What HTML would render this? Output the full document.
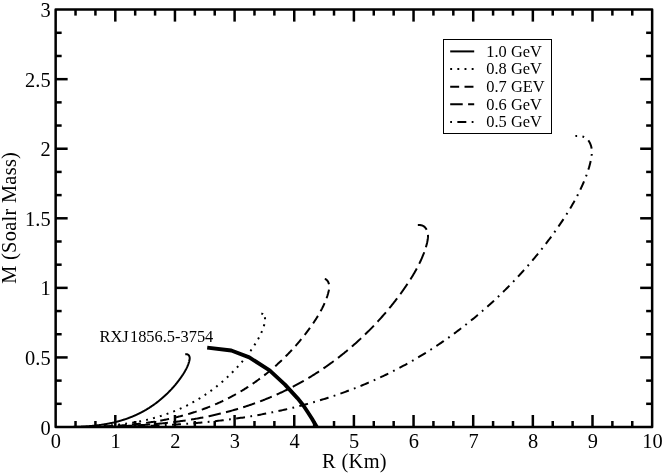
<!DOCTYPE html>
<html><head><meta charset="utf-8"><title>M-R</title>
<style>html,body{margin:0;padding:0;background:#fff;}svg{display:block;will-change:transform;}text{font-family:"Liberation Serif",serif;fill:#000;}</style></head><body>
<svg width="664" height="473" viewBox="0 0 664 473">
<rect x="0" y="0" width="664" height="473" fill="#fff"/>
<g fill="none" stroke="#000" stroke-width="2.00" stroke-linecap="butt" stroke-linejoin="round">
<path d="M185.24 354.31 L185.61 354.27 L186.01 354.24 L186.41 354.24 L186.81 354.27 L187.20 354.33 L187.56 354.43 L187.90 354.58 L188.21 354.77 L188.49 355.00 L188.74 355.26 L188.96 355.56 L189.15 355.88 L189.32 356.22 L189.45 356.58 L189.55 356.94 L189.63 357.32 L189.68 357.69 L189.70 358.07 L189.70 358.45 L189.67 358.83 L189.64 359.22 L189.58 359.60 L189.51 359.98 L189.44 360.36 L189.35 360.73 L189.26 361.11 L189.17 361.48 L189.07 361.85 L188.96 362.21 L188.85 362.58 L188.74 362.94 L188.62 363.30 L188.49 363.66 L188.36 364.02 L188.23 364.37 L188.10 364.72 L187.96 365.08 L187.81 365.43 L187.67 365.77 L187.52 366.12 L187.37 366.47 L187.21 366.81 L187.06 367.16 L186.90 367.50 L186.73 367.84 L186.57 368.18 L186.40 368.52 L186.23 368.86 L186.05 369.20 L185.88 369.53 L185.70 369.87 L185.52 370.20 L185.34 370.54 L185.15 370.87 L184.96 371.20 L184.78 371.53 L184.58 371.86 L184.39 372.18 L184.20 372.51 L184.00 372.84 L183.80 373.16 L183.60 373.48 L183.40 373.81 L183.19 374.13 L182.99 374.45 L182.78 374.77 L182.57 375.09 L182.36 375.40 L182.15 375.72 L181.93 376.04 L181.72 376.35 L181.50 376.67 L181.29 376.98 L181.07 377.29 L180.85 377.60 L180.63 377.91 L180.41 378.22 L180.19 378.53 L179.96 378.84 L179.74 379.15 L179.52 379.45 L179.29 379.76 L179.06 380.06 L178.83 380.37 L178.60 380.67 L178.37 380.97 L178.14 381.27 L177.91 381.57 L177.68 381.87 L177.44 382.17 L177.21 382.47 L176.97 382.77 L176.74 383.06 L176.50 383.36 L176.26 383.65 L176.02 383.95 L175.78 384.24 L175.54 384.53 L175.29 384.82 L175.05 385.12 L174.81 385.40 L174.56 385.69 L174.31 385.98 L174.07 386.27 L173.82 386.56 L173.57 386.84 L173.32 387.13 L173.07 387.41 L172.81 387.69 L172.56 387.98 L172.31 388.26 L172.05 388.54 L171.79 388.82 L171.54 389.10 L171.28 389.37 L171.02 389.65 L170.76 389.93 L170.50 390.20 L170.24 390.48 L169.97 390.75 L169.71 391.03 L169.45 391.30 L169.18 391.57 L168.91 391.84 L168.65 392.11 L168.38 392.38 L168.11 392.65 L167.84 392.92 L167.57 393.18 L167.30 393.45 L167.02 393.71 L166.75 393.98 L166.48 394.24 L166.20 394.50 L165.92 394.76 L165.65 395.02 L165.37 395.28 L165.09 395.54 L164.81 395.80 L164.53 396.05 L164.25 396.31 L163.97 396.56 L163.68 396.82 L163.40 397.07 L163.12 397.32 L162.83 397.57 L162.54 397.82 L162.26 398.07 L161.97 398.32 L161.68 398.57 L161.39 398.81 L161.10 399.06 L160.81 399.30 L160.51 399.55 L160.22 399.79 L159.93 400.03 L159.63 400.27 L159.34 400.51 L159.04 400.75 L158.74 400.99 L158.45 401.22 L158.15 401.46 L157.85 401.69 L157.55 401.93 L157.25 402.16 L156.95 402.39 L156.64 402.62 L156.34 402.85 L156.03 403.08 L155.73 403.31 L155.42 403.53 L155.12 403.76 L154.81 403.98 L154.50 404.20 L154.19 404.43 L153.88 404.65 L153.57 404.87 L153.26 405.09 L152.95 405.30 L152.64 405.52 L152.33 405.74 L152.01 405.95 L151.70 406.16 L151.38 406.38 L151.07 406.59 L150.75 406.80 L150.43 407.01 L150.11 407.21 L149.80 407.42 L149.48 407.63 L149.16 407.83 L148.84 408.04 L148.51 408.24 L148.19 408.44 L147.87 408.64 L147.54 408.84 L147.22 409.04 L146.90 409.23 L146.57 409.43 L146.24 409.62 L145.92 409.82 L145.59 410.01 L145.26 410.20 L144.93 410.39 L144.60 410.58 L144.27 410.76 L143.94 410.95 L143.61 411.14 L143.28 411.32 L142.94 411.50 L142.61 411.68 L142.28 411.86 L141.94 412.04 L141.60 412.22 L141.27 412.40 L140.93 412.57 L140.59 412.75 L140.26 412.92 L139.92 413.09 L139.58 413.26 L139.24 413.43 L138.90 413.60 L138.56 413.77 L138.22 413.93 L137.87 414.10 L137.53 414.26 L137.19 414.42 L136.84 414.58 L136.50 414.74 L136.16 414.90 L135.81 415.06 L135.46 415.21 L135.12 415.37 L134.77 415.52 L134.42 415.67 L134.07 415.82 L133.73 415.97 L133.38 416.12 L133.03 416.27 L132.68 416.41 L132.32 416.56 L131.97 416.70 L131.62 416.85 L131.27 416.99 L130.92 417.13 L130.56 417.27 L130.21 417.40 L129.86 417.54 L129.50 417.68 L129.15 417.81 L128.79 417.94 L128.43 418.08 L128.08 418.21 L127.72 418.34 L127.36 418.46 L127.00 418.59 L126.65 418.72 L126.29 418.84 L125.93 418.97 L125.57 419.09 L125.21 419.21 L124.85 419.33 L124.49 419.45 L124.13 419.57 L123.77 419.69 L123.40 419.80 L123.04 419.92 L122.68 420.03 L122.32 420.15 L121.95 420.26 L121.59 420.37 L121.22 420.48 L120.86 420.59 L120.50 420.69 L120.13 420.80 L119.77 420.90 L119.40 421.01 L119.03 421.11 L118.67 421.21 L118.30 421.31 L117.93 421.41 L117.57 421.51 L117.20 421.61 L116.83 421.71 L116.46 421.80 L116.09 421.90 L115.73 421.99 L115.36 422.08 L114.99 422.17 L114.62 422.26 L114.25 422.35 L113.88 422.44 L113.51 422.53 L113.14 422.61 L112.77 422.70 L112.40 422.78 L112.02 422.86 L111.65 422.94 L111.28 423.02 L110.91 423.10 L110.54 423.18 L110.17 423.26 L109.79 423.34 L109.42 423.41 L109.05 423.49 L108.67 423.56 L108.30 423.63 L107.93 423.70 L107.55 423.77 L107.18 423.84 L106.81 423.91 L106.43 423.98 L106.06 424.05 L105.68 424.11 L105.31 424.18 L104.94 424.24 L104.56 424.30 L104.19 424.36 L103.81 424.43 L103.44 424.49 L103.06 424.54 L102.69 424.60 L102.31 424.66 L101.94 424.72 L101.56 424.77 L101.18 424.82 L100.81 424.88 L100.43 424.93 L100.06 424.98 L99.68 425.03 L99.30 425.08 L98.93 425.13 L98.55 425.18 L98.17 425.23 L97.80 425.27 L97.42 425.32 L97.04 425.36 L96.67 425.41 L96.29 425.45 L95.91 425.49 L95.53 425.54 L95.16 425.58 L94.78 425.62 L94.40 425.66 L94.02 425.70 L93.65 425.73 L93.27 425.77 L92.89 425.81 L92.51 425.84 L92.13 425.88 L91.75 425.91 L91.38 425.95 L91.00 425.98 L90.62 426.01 L90.24 426.04 L89.86 426.07 L89.48 426.10 L89.11 426.13 L88.73 426.16 L88.35 426.19 L87.97 426.22 L87.59 426.24 L87.21 426.27 L86.83 426.30 L86.45 426.32 L86.07 426.35 L85.69 426.37 L85.31 426.39 L84.94 426.42 L84.56 426.44 L84.18 426.46 L83.80 426.48 L83.42 426.50 L83.04 426.52 L82.66 426.54 L82.28 426.56 L81.90 426.58 L81.52 426.60 L81.14 426.62 L80.76 426.63 L80.38 426.65 L80.00 426.66 L79.62 426.68 L79.24 426.70 L78.86 426.71 L78.48 426.72 L78.10 426.74 L77.72 426.75 L77.34 426.76 L76.96 426.78 L76.58 426.79 L76.20 426.80 L75.82 426.81 L75.44 426.82 L75.06 426.83 L74.68 426.84 L74.30 426.85 L73.92 426.86 L73.54 426.87"  stroke-dashoffset="0.00"/>
<path d="M261.30 313.48 L261.76 313.61 L262.29 313.84 L262.78 314.14 L263.21 314.50 L263.61 314.91 L263.95 315.37 L264.25 315.87 L264.50 316.41 L264.71 316.96 L264.87 317.54 L264.99 318.12 L265.06 318.71 L265.10 319.30 L265.10 319.90 L265.06 320.49 L265.00 321.09 L264.92 321.68 L264.81 322.28 L264.69 322.87 L264.56 323.46 L264.42 324.04 L264.27 324.62 L264.11 325.20 L263.95 325.77 L263.78 326.34 L263.60 326.91 L263.41 327.47 L263.22 328.03 L263.02 328.59 L262.81 329.14 L262.60 329.69 L262.38 330.24 L262.16 330.79 L261.93 331.34 L261.70 331.88 L261.46 332.42 L261.22 332.96 L260.97 333.50 L260.72 334.03 L260.47 334.57 L260.21 335.10 L259.94 335.63 L259.68 336.16 L259.41 336.69 L259.13 337.21 L258.85 337.73 L258.57 338.26 L258.29 338.78 L258.00 339.29 L257.70 339.81 L257.41 340.33 L257.11 340.84 L256.81 341.35 L256.50 341.86 L256.19 342.37 L255.88 342.88 L255.57 343.38 L255.25 343.88 L254.93 344.39 L254.61 344.89 L254.29 345.39 L253.96 345.88 L253.63 346.38 L253.30 346.88 L252.97 347.37 L252.63 347.86 L252.30 348.35 L251.96 348.84 L251.62 349.33 L251.27 349.82 L250.93 350.30 L250.59 350.79 L250.24 351.27 L249.89 351.75 L249.54 352.23 L249.19 352.71 L248.84 353.19 L248.48 353.66 L248.12 354.14 L247.77 354.61 L247.41 355.08 L247.05 355.55 L246.68 356.02 L246.32 356.49 L245.95 356.96 L245.59 357.42 L245.22 357.89 L244.85 358.35 L244.48 358.81 L244.10 359.27 L243.73 359.73 L243.35 360.19 L242.97 360.65 L242.59 361.10 L242.21 361.56 L241.83 362.01 L241.45 362.46 L241.06 362.91 L240.68 363.36 L240.29 363.81 L239.90 364.25 L239.51 364.70 L239.11 365.14 L238.72 365.58 L238.32 366.02 L237.92 366.46 L237.53 366.90 L237.13 367.34 L236.72 367.78 L236.32 368.21 L235.92 368.64 L235.51 369.08 L235.10 369.51 L234.69 369.94 L234.28 370.37 L233.87 370.79 L233.46 371.22 L233.04 371.64 L232.63 372.07 L232.21 372.49 L231.79 372.91 L231.37 373.33 L230.95 373.74 L230.52 374.16 L230.10 374.58 L229.67 374.99 L229.25 375.40 L228.82 375.81 L228.39 376.22 L227.95 376.63 L227.52 377.04 L227.09 377.44 L226.65 377.84 L226.21 378.25 L225.78 378.65 L225.34 379.05 L224.90 379.45 L224.45 379.84 L224.01 380.24 L223.56 380.63 L223.12 381.02 L222.67 381.41 L222.22 381.80 L221.77 382.19 L221.32 382.58 L220.87 382.96 L220.41 383.34 L219.96 383.73 L219.50 384.11 L219.04 384.48 L218.58 384.86 L218.12 385.24 L217.66 385.61 L217.20 385.98 L216.73 386.35 L216.27 386.72 L215.80 387.09 L215.33 387.46 L214.87 387.82 L214.40 388.19 L213.92 388.55 L213.45 388.91 L212.98 389.27 L212.50 389.62 L212.03 389.98 L211.55 390.33 L211.07 390.68 L210.59 391.03 L210.11 391.38 L209.63 391.73 L209.14 392.07 L208.66 392.42 L208.17 392.76 L207.68 393.10 L207.20 393.44 L206.71 393.77 L206.22 394.11 L205.73 394.44 L205.23 394.78 L204.74 395.11 L204.24 395.43 L203.75 395.76 L203.25 396.09 L202.75 396.41 L202.25 396.73 L201.75 397.05 L201.25 397.37 L200.75 397.68 L200.25 398.00 L199.74 398.31 L199.24 398.62 L198.73 398.93 L198.22 399.24 L197.71 399.54 L197.20 399.85 L196.69 400.15 L196.18 400.45 L195.67 400.75 L195.15 401.04 L194.64 401.34 L194.12 401.63 L193.60 401.92 L193.08 402.21 L192.57 402.50 L192.05 402.78 L191.52 403.07 L191.00 403.35 L190.48 403.63 L189.95 403.91 L189.43 404.18 L188.90 404.46 L188.38 404.73 L187.85 405.00 L187.32 405.27 L186.79 405.53 L186.26 405.80 L185.73 406.06 L185.19 406.32 L184.66 406.58 L184.13 406.84 L183.59 407.09 L183.05 407.34 L182.52 407.60 L181.98 407.84 L181.44 408.09 L180.90 408.34 L180.36 408.58 L179.82 408.82 L179.27 409.06 L178.73 409.30 L178.19 409.53 L177.64 409.77 L177.10 410.00 L176.55 410.23 L176.00 410.46 L175.45 410.69 L174.91 410.91 L174.36 411.13 L173.81 411.35 L173.25 411.57 L172.70 411.79 L172.15 412.01 L171.60 412.22 L171.04 412.43 L170.49 412.64 L169.93 412.85 L169.37 413.06 L168.82 413.26 L168.26 413.46 L167.70 413.66 L167.14 413.86 L166.58 414.06 L166.02 414.26 L165.46 414.45 L164.90 414.64 L164.34 414.83 L163.77 415.02 L163.21 415.21 L162.65 415.39 L162.08 415.58 L161.52 415.76 L160.95 415.94 L160.38 416.11 L159.82 416.29 L159.25 416.46 L158.68 416.64 L158.11 416.81 L157.54 416.98 L156.97 417.15 L156.40 417.31 L155.83 417.48 L155.26 417.64 L154.69 417.80 L154.11 417.96 L153.54 418.11 L152.97 418.27 L152.39 418.42 L151.82 418.58 L151.25 418.73 L150.67 418.88 L150.09 419.02 L149.52 419.17 L148.94 419.31 L148.36 419.46 L147.79 419.60 L147.21 419.74 L146.63 419.87 L146.05 420.01 L145.47 420.14 L144.89 420.27 L144.32 420.41 L143.74 420.53 L143.15 420.66 L142.57 420.79 L141.99 420.91 L141.41 421.04 L140.83 421.16 L140.25 421.28 L139.67 421.39 L139.08 421.51 L138.50 421.63 L137.92 421.74 L137.33 421.85 L136.75 421.96 L136.17 422.07 L135.58 422.18 L135.00 422.28 L134.41 422.39 L133.83 422.49 L133.24 422.59 L132.66 422.69 L132.07 422.79 L131.49 422.88 L130.90 422.98 L130.32 423.07 L129.73 423.16 L129.14 423.25 L128.56 423.34 L127.97 423.43 L127.38 423.52 L126.80 423.60 L126.21 423.68 L125.62 423.77 L125.03 423.85 L124.45 423.93 L123.86 424.00 L123.27 424.08 L122.68 424.16 L122.09 424.23 L121.50 424.30 L120.91 424.37 L120.33 424.44 L119.74 424.51 L119.15 424.58 L118.56 424.65 L117.97 424.71 L117.38 424.78 L116.79 424.84 L116.20 424.90 L115.61 424.96 L115.02 425.02 L114.43 425.08 L113.84 425.14 L113.25 425.19 L112.65 425.25 L112.06 425.30 L111.47 425.35 L110.88 425.40 L110.29 425.45 L109.70 425.50 L109.11 425.55 L108.52 425.60 L107.92 425.65 L107.33 425.69 L106.74 425.73 L106.15 425.78 L105.56 425.82 L104.96 425.86 L104.37 425.90 L103.78 425.94 L103.19 425.98 L102.59 426.02 L102.00 426.05 L101.41 426.09 L100.82 426.12 L100.22 426.16 L99.63 426.19 L99.04 426.22 L98.44 426.25 L97.85 426.28 L97.26 426.31 L96.66 426.34 L96.07 426.37 L95.48 426.40 L94.88 426.43 L94.29 426.45 L93.70 426.48 L93.10 426.50 L92.51 426.52 L91.92 426.55 L91.32 426.57 L90.73 426.59 L90.14 426.61 L89.54 426.63 L88.95 426.65 L88.36 426.67 L87.76 426.69 L87.17 426.71 L86.58 426.72 L85.98 426.74 L85.39 426.76 L84.80 426.77 L84.20 426.79 L83.61 426.80" stroke-dasharray="1.9 3.6 1.9 5.2 1.9 5.2 1.9 5.2 1.9 5.2 1.9 5.2 1.9 5.2 1.9 5.2 1.9 5.2 1.9 5.2 1.9 5.2 1.9 5.2 1.9 5.2 1.9 5.2 1.9 5.2 1.9 5.2 1.9 5.2 1.9 5.2 1.9 5.2 1.9 5.2 1.9 5.2 1.9 5.2 1.9 5.2 1.9 5.2 1.9 5.2 1.9 5.2 1.9 5.2 1.9 5.2 1.9 5.2 1.9 5.2 1.9 5.2 1.9 5.2 1.9 5.2 1.9 5.2 1.9 5.2 1.9 5.2 1.9 5.2 1.9 5.2 1.9 5.2 1.9 5.2 1.9 5.2 1.9 5.2 1.9 5.2 1.9 5.2 1.9 5.2 1.9 5.2" stroke-dashoffset="0.00"/>
<path d="M324.77 278.88 L324.86 278.90 L325.55 279.20 L326.18 279.59 L326.75 280.06 L327.26 280.60 L327.72 281.20 L328.11 281.85 L328.44 282.55 L328.71 283.28 L328.92 284.03 L329.08 284.79 L329.17 285.56 L329.22 286.33 L329.21 287.11 L329.17 287.89 L329.09 288.67 L328.98 289.44 L328.84 290.22 L328.69 290.99 L328.51 291.76 L328.33 292.52 L328.14 293.28 L327.93 294.04 L327.71 294.78 L327.49 295.53 L327.25 296.27 L327.01 297.00 L326.76 297.73 L326.50 298.46 L326.23 299.18 L325.95 299.91 L325.66 300.62 L325.37 301.34 L325.08 302.05 L324.77 302.76 L324.46 303.47 L324.15 304.17 L323.83 304.87 L323.50 305.57 L323.17 306.27 L322.83 306.97 L322.48 307.66 L322.14 308.35 L321.78 309.04 L321.42 309.72 L321.06 310.41 L320.69 311.09 L320.32 311.77 L319.94 312.44 L319.56 313.12 L319.17 313.79 L318.78 314.46 L318.39 315.13 L317.99 315.80 L317.58 316.46 L317.18 317.12 L316.77 317.78 L316.35 318.44 L315.94 319.10 L315.52 319.75 L315.09 320.40 L314.67 321.05 L314.24 321.70 L313.81 322.35 L313.37 322.99 L312.93 323.64 L312.49 324.28 L312.05 324.92 L311.61 325.55 L311.16 326.19 L310.71 326.82 L310.26 327.45 L309.81 328.08 L309.35 328.71 L308.89 329.34 L308.44 329.97 L307.97 330.59 L307.51 331.21 L307.05 331.83 L306.58 332.45 L306.11 333.07 L305.64 333.68 L305.16 334.29 L304.69 334.91 L304.21 335.52 L303.73 336.12 L303.25 336.73 L302.77 337.34 L302.28 337.94 L301.79 338.54 L301.30 339.14 L300.81 339.74 L300.32 340.33 L299.82 340.93 L299.33 341.52 L298.83 342.11 L298.32 342.70 L297.82 343.29 L297.32 343.88 L296.81 344.46 L296.30 345.04 L295.79 345.62 L295.27 346.20 L294.76 346.78 L294.24 347.36 L293.72 347.93 L293.20 348.51 L292.68 349.08 L292.15 349.65 L291.63 350.21 L291.10 350.78 L290.57 351.34 L290.04 351.91 L289.50 352.47 L288.97 353.03 L288.43 353.59 L287.89 354.14 L287.35 354.70 L286.80 355.25 L286.26 355.80 L285.71 356.35 L285.16 356.90 L284.61 357.44 L284.06 357.98 L283.50 358.53 L282.94 359.07 L282.39 359.61 L281.83 360.14 L281.26 360.68 L280.70 361.21 L280.14 361.74 L279.57 362.27 L279.00 362.80 L278.43 363.32 L277.86 363.85 L277.28 364.37 L276.71 364.89 L276.13 365.41 L275.55 365.92 L274.97 366.44 L274.38 366.95 L273.80 367.46 L273.21 367.97 L272.62 368.47 L272.04 368.98 L271.44 369.48 L270.85 369.98 L270.26 370.48 L269.66 370.98 L269.06 371.47 L268.46 371.96 L267.86 372.45 L267.26 372.94 L266.65 373.43 L266.05 373.91 L265.44 374.40 L264.83 374.88 L264.22 375.35 L263.60 375.83 L262.99 376.30 L262.37 376.78 L261.76 377.25 L261.14 377.71 L260.52 378.18 L259.90 378.64 L259.27 379.11 L258.65 379.57 L258.02 380.02 L257.39 380.48 L256.76 380.93 L256.13 381.38 L255.50 381.83 L254.86 382.28 L254.23 382.72 L253.59 383.16 L252.95 383.60 L252.31 384.04 L251.67 384.48 L251.02 384.91 L250.38 385.34 L249.73 385.77 L249.08 386.20 L248.44 386.62 L247.78 387.04 L247.13 387.46 L246.48 387.88 L245.82 388.30 L245.17 388.71 L244.51 389.12 L243.85 389.53 L243.19 389.93 L242.53 390.34 L241.86 390.74 L241.20 391.14 L240.53 391.54 L239.87 391.93 L239.20 392.32 L238.53 392.71 L237.86 393.10 L237.18 393.48 L236.51 393.87 L235.83 394.25 L235.16 394.62 L234.48 395.00 L233.80 395.37 L233.12 395.74 L232.44 396.11 L231.75 396.47 L231.07 396.84 L230.38 397.20 L229.70 397.56 L229.01 397.91 L228.32 398.26 L227.63 398.61 L226.93 398.96 L226.24 399.31 L225.55 399.65 L224.85 399.99 L224.15 400.33 L223.46 400.66 L222.76 401.00 L222.06 401.33 L221.35 401.66 L220.65 401.98 L219.95 402.30 L219.24 402.62 L218.53 402.94 L217.83 403.26 L217.12 403.57 L216.41 403.88 L215.70 404.19 L214.99 404.49 L214.27 404.80 L213.56 405.10 L212.85 405.40 L212.13 405.69 L211.41 405.99 L210.69 406.28 L209.98 406.56 L209.25 406.85 L208.53 407.13 L207.81 407.42 L207.09 407.70 L206.37 407.97 L205.64 408.25 L204.91 408.52 L204.19 408.79 L203.46 409.05 L202.73 409.32 L202.00 409.58 L201.27 409.84 L200.54 410.10 L199.81 410.35 L199.08 410.61 L198.34 410.86 L197.61 411.11 L196.87 411.35 L196.14 411.60 L195.40 411.84 L194.66 412.08 L193.92 412.31 L193.18 412.55 L192.44 412.78 L191.70 413.01 L190.96 413.24 L190.22 413.47 L189.48 413.69 L188.73 413.91 L187.99 414.13 L187.24 414.35 L186.50 414.56 L185.75 414.77 L185.00 414.98 L184.26 415.19 L183.51 415.39 L182.76 415.60 L182.01 415.80 L181.26 416.00 L180.51 416.19 L179.76 416.39 L179.01 416.58 L178.25 416.77 L177.50 416.96 L176.75 417.15 L175.99 417.33 L175.24 417.51 L174.48 417.69 L173.73 417.87 L172.97 418.04 L172.21 418.22 L171.46 418.39 L170.70 418.56 L169.94 418.72 L169.18 418.89 L168.42 419.05 L167.67 419.21 L166.91 419.37 L166.15 419.52 L165.39 419.68 L164.62 419.83 L163.86 419.98 L163.10 420.13 L162.34 420.27 L161.58 420.42 L160.82 420.56 L160.05 420.70 L159.29 420.84 L158.53 420.97 L157.76 421.11 L157.00 421.24 L156.23 421.37 L155.47 421.50 L154.70 421.62 L153.94 421.75 L153.17 421.87 L152.41 421.99 L151.64 422.11 L150.88 422.22 L150.11 422.34 L149.34 422.45 L148.58 422.56 L147.81 422.67 L147.04 422.78 L146.27 422.88 L145.51 422.99 L144.74 423.09 L143.97 423.19 L143.20 423.29 L142.43 423.38 L141.66 423.48 L140.89 423.57 L140.12 423.66 L139.35 423.75 L138.59 423.84 L137.82 423.93 L137.04 424.01 L136.27 424.10 L135.50 424.18 L134.73 424.26 L133.96 424.34 L133.19 424.41 L132.42 424.49 L131.65 424.57 L130.88 424.64 L130.11 424.71 L129.33 424.78 L128.56 424.85 L127.79 424.92 L127.02 424.98 L126.24 425.05 L125.47 425.11 L124.70 425.17 L123.93 425.23 L123.15 425.29 L122.38 425.35 L121.61 425.40 L120.83 425.46 L120.06 425.51 L119.29 425.56 L118.51 425.62 L117.74 425.67 L116.96 425.72 L116.19 425.76 L115.42 425.81 L114.64 425.86 L113.87 425.90 L113.09 425.94 L112.32 425.98 L111.54 426.03 L110.77 426.07 L109.99 426.10 L109.22 426.14 L108.45 426.18 L107.67 426.21 L106.90 426.25 L106.12 426.28 L105.35 426.32 L104.57 426.35 L103.80 426.38 L103.02 426.41 L102.25 426.44 L101.47 426.47 L100.70 426.49 L99.92 426.52 L99.14 426.54 L98.37 426.57 L97.59 426.59 L96.82 426.62 L96.04 426.64 L95.27 426.66 L94.49 426.68 L93.72 426.70 L92.94 426.72 L92.17 426.74" stroke-dasharray="8.95 5.37" stroke-dashoffset="1.80"/>
<path d="M417.82 224.90 L418.88 224.89 L419.99 224.96 L421.06 225.14 L422.07 225.42 L423.02 225.83 L423.87 226.36 L424.65 227.00 L425.35 227.73 L425.96 228.55 L426.49 229.44 L426.94 230.39 L427.31 231.38 L427.60 232.40 L427.81 233.44 L427.94 234.48 L428.00 235.53 L428.00 236.59 L427.94 237.65 L427.83 238.71 L427.68 239.77 L427.49 240.83 L427.28 241.88 L427.05 242.93 L426.80 243.96 L426.53 245.00 L426.25 246.02 L425.96 247.04 L425.65 248.05 L425.33 249.06 L425.00 250.06 L424.66 251.05 L424.30 252.04 L423.93 253.03 L423.56 254.01 L423.17 254.99 L422.77 255.96 L422.37 256.93 L421.96 257.90 L421.53 258.86 L421.10 259.82 L420.67 260.77 L420.22 261.73 L419.77 262.68 L419.31 263.62 L418.84 264.56 L418.37 265.50 L417.88 266.44 L417.40 267.37 L416.90 268.30 L416.40 269.23 L415.89 270.16 L415.38 271.08 L414.86 272.00 L414.33 272.91 L413.80 273.82 L413.26 274.73 L412.72 275.64 L412.17 276.54 L411.62 277.45 L411.06 278.34 L410.50 279.24 L409.93 280.13 L409.36 281.02 L408.78 281.91 L408.20 282.79 L407.62 283.68 L407.03 284.56 L406.44 285.43 L405.84 286.31 L405.24 287.18 L404.64 288.05 L404.04 288.92 L403.43 289.78 L402.82 290.65 L402.20 291.51 L401.59 292.37 L400.97 293.22 L400.34 294.07 L399.72 294.93 L399.09 295.77 L398.46 296.62 L397.83 297.46 L397.19 298.31 L396.55 299.15 L395.91 299.98 L395.27 300.82 L394.62 301.65 L393.97 302.48 L393.32 303.31 L392.66 304.13 L392.00 304.96 L391.34 305.78 L390.68 306.60 L390.01 307.41 L389.34 308.23 L388.67 309.04 L388.00 309.85 L387.32 310.65 L386.64 311.46 L385.96 312.26 L385.27 313.06 L384.58 313.86 L383.89 314.65 L383.20 315.45 L382.50 316.24 L381.81 317.03 L381.10 317.81 L380.40 318.60 L379.69 319.38 L378.99 320.16 L378.27 320.94 L377.56 321.71 L376.84 322.49 L376.12 323.26 L375.40 324.02 L374.68 324.79 L373.95 325.55 L373.22 326.32 L372.49 327.08 L371.75 327.83 L371.01 328.59 L370.27 329.34 L369.53 330.09 L368.79 330.84 L368.04 331.58 L367.29 332.32 L366.54 333.06 L365.78 333.80 L365.02 334.54 L364.26 335.27 L363.50 336.00 L362.74 336.73 L361.97 337.45 L361.20 338.17 L360.43 338.89 L359.65 339.61 L358.88 340.33 L358.10 341.04 L357.32 341.75 L356.53 342.46 L355.74 343.16 L354.96 343.87 L354.16 344.56 L353.37 345.26 L352.58 345.96 L351.78 346.65 L350.98 347.34 L350.17 348.02 L349.37 348.71 L348.56 349.39 L347.75 350.07 L346.94 350.74 L346.13 351.42 L345.31 352.09 L344.49 352.76 L343.67 353.42 L342.85 354.08 L342.02 354.74 L341.20 355.40 L340.37 356.05 L339.53 356.70 L338.70 357.35 L337.86 358.00 L337.03 358.64 L336.18 359.28 L335.34 359.92 L334.50 360.55 L333.65 361.18 L332.80 361.81 L331.95 362.44 L331.10 363.06 L330.24 363.68 L329.38 364.30 L328.52 364.91 L327.66 365.52 L326.80 366.13 L325.93 366.73 L325.07 367.33 L324.20 367.93 L323.32 368.53 L322.45 369.12 L321.58 369.71 L320.70 370.30 L319.82 370.88 L318.94 371.46 L318.05 372.04 L317.17 372.62 L316.28 373.19 L315.39 373.76 L314.50 374.32 L313.60 374.88 L312.71 375.44 L311.81 376.00 L310.91 376.55 L310.01 377.10 L309.11 377.65 L308.20 378.19 L307.30 378.73 L306.39 379.27 L305.48 379.80 L304.57 380.33 L303.65 380.86 L302.74 381.38 L301.82 381.90 L300.90 382.42 L299.98 382.93 L299.06 383.44 L298.13 383.95 L297.20 384.45 L296.28 384.95 L295.35 385.45 L294.41 385.95 L293.48 386.44 L292.55 386.92 L291.61 387.41 L290.67 387.89 L289.73 388.36 L288.79 388.84 L287.84 389.31 L286.90 389.77 L285.95 390.24 L285.00 390.70 L284.05 391.15 L283.10 391.61 L282.15 392.06 L281.19 392.50 L280.23 392.95 L279.28 393.39 L278.32 393.82 L277.35 394.25 L276.39 394.68 L275.43 395.11 L274.46 395.53 L273.49 395.95 L272.53 396.37 L271.55 396.78 L270.58 397.19 L269.61 397.59 L268.64 398.00 L267.66 398.40 L266.68 398.79 L265.70 399.19 L264.72 399.57 L263.74 399.96 L262.76 400.34 L261.78 400.72 L260.79 401.10 L259.80 401.47 L258.82 401.84 L257.83 402.21 L256.84 402.57 L255.84 402.93 L254.85 403.29 L253.86 403.65 L252.86 404.00 L251.87 404.34 L250.87 404.69 L249.87 405.03 L248.87 405.37 L247.87 405.70 L246.87 406.03 L245.86 406.36 L244.86 406.69 L243.86 407.01 L242.85 407.33 L241.84 407.65 L240.83 407.96 L239.82 408.27 L238.81 408.58 L237.80 408.88 L236.79 409.18 L235.78 409.48 L234.76 409.78 L233.75 410.07 L232.73 410.36 L231.72 410.64 L230.70 410.92 L229.68 411.20 L228.66 411.48 L227.64 411.75 L226.62 412.03 L225.60 412.29 L224.57 412.56 L223.55 412.82 L222.53 413.08 L221.50 413.33 L220.48 413.59 L219.45 413.84 L218.42 414.08 L217.39 414.33 L216.37 414.57 L215.34 414.81 L214.31 415.04 L213.28 415.28 L212.25 415.51 L211.21 415.73 L210.18 415.96 L209.15 416.18 L208.12 416.40 L207.08 416.61 L206.05 416.82 L205.01 417.03 L203.98 417.24 L202.94 417.45 L201.90 417.65 L200.87 417.85 L199.83 418.04 L198.79 418.23 L197.75 418.42 L196.71 418.61 L195.68 418.80 L194.64 418.98 L193.60 419.16 L192.56 419.33 L191.52 419.51 L190.47 419.68 L189.43 419.85 L188.39 420.01 L187.35 420.18 L186.31 420.34 L185.26 420.50 L184.22 420.65 L183.18 420.81 L182.13 420.96 L181.09 421.11 L180.04 421.25 L179.00 421.39 L177.95 421.54 L176.91 421.67 L175.86 421.81 L174.82 421.94 L173.77 422.08 L172.72 422.21 L171.68 422.33 L170.63 422.46 L169.58 422.58 L168.53 422.70 L167.49 422.82 L166.44 422.93 L165.39 423.05 L164.34 423.16 L163.29 423.27 L162.24 423.38 L161.19 423.48 L160.14 423.58 L159.09 423.69 L158.04 423.79 L156.99 423.88 L155.94 423.98 L154.89 424.07 L153.84 424.16 L152.79 424.25 L151.74 424.34 L150.68 424.43 L149.63 424.51 L148.58 424.59 L147.53 424.67 L146.48 424.75 L145.42 424.83 L144.37 424.90 L143.32 424.98 L142.27 425.05 L141.21 425.12 L140.16 425.18 L139.11 425.25 L138.05 425.32 L137.00 425.38 L135.94 425.44 L134.89 425.50 L133.84 425.56 L132.78 425.62 L131.73 425.67 L130.67 425.73 L129.62 425.78 L128.56 425.83 L127.51 425.88 L126.46 425.93 L125.40 425.98 L124.35 426.02 L123.29 426.07 L122.24 426.11 L121.18 426.15 L120.13 426.19 L119.07 426.23 L118.02 426.27 L116.96 426.31 L115.91 426.35 L114.85 426.38 L113.80 426.41 L112.74 426.45 L111.69 426.48 L110.63 426.51 L109.58 426.54 L108.52 426.57 L107.46 426.59 L106.41 426.62 L105.35 426.64" stroke-dasharray="12.53 5.37" stroke-dashoffset="1.80"/>
<path d="M575.38 136.09 L575.50 136.08 L577.10 135.97 L578.71 135.96 L580.30 136.07 L581.84 136.32 L583.30 136.73 L584.66 137.31 L585.89 138.08 L587.01 139.00 L588.01 140.06 L588.90 141.23 L589.66 142.51 L590.31 143.88 L590.85 145.30 L591.26 146.77 L591.56 148.27 L591.75 149.77 L591.84 151.29 L591.83 152.81 L591.75 154.34 L591.59 155.86 L591.37 157.39 L591.11 158.91 L590.80 160.43 L590.46 161.93 L590.10 163.43 L589.72 164.91 L589.32 166.39 L588.90 167.86 L588.45 169.31 L587.99 170.76 L587.51 172.20 L587.02 173.64 L586.51 175.06 L585.98 176.48 L585.44 177.89 L584.88 179.30 L584.31 180.70 L583.72 182.10 L583.13 183.49 L582.52 184.88 L581.90 186.26 L581.27 187.63 L580.63 189.01 L579.98 190.37 L579.32 191.73 L578.64 193.09 L577.96 194.45 L577.27 195.79 L576.56 197.14 L575.85 198.48 L575.13 199.81 L574.40 201.14 L573.66 202.47 L572.91 203.79 L572.15 205.11 L571.39 206.43 L570.61 207.74 L569.83 209.04 L569.04 210.34 L568.25 211.64 L567.44 212.93 L566.63 214.22 L565.81 215.51 L564.99 216.79 L564.16 218.07 L563.33 219.34 L562.48 220.62 L561.64 221.88 L560.78 223.15 L559.93 224.41 L559.06 225.66 L558.20 226.91 L557.33 228.16 L556.45 229.41 L555.57 230.65 L554.69 231.89 L553.80 233.13 L552.91 234.36 L552.01 235.59 L551.11 236.81 L550.21 238.04 L549.30 239.25 L548.39 240.47 L547.47 241.68 L546.55 242.89 L545.63 244.10 L544.70 245.30 L543.77 246.50 L542.83 247.69 L541.89 248.88 L540.95 250.07 L540.00 251.26 L539.05 252.44 L538.09 253.62 L537.13 254.79 L536.17 255.96 L535.20 257.13 L534.23 258.30 L533.25 259.46 L532.27 260.62 L531.29 261.78 L530.31 262.93 L529.31 264.08 L528.32 265.22 L527.32 266.36 L526.32 267.50 L525.31 268.64 L524.30 269.77 L523.29 270.90 L522.27 272.03 L521.25 273.15 L520.23 274.27 L519.20 275.39 L518.17 276.50 L517.13 277.61 L516.09 278.72 L515.05 279.82 L514.00 280.92 L512.95 282.02 L511.89 283.11 L510.84 284.20 L509.77 285.28 L508.71 286.37 L507.64 287.45 L506.57 288.52 L505.49 289.60 L504.41 290.66 L503.33 291.73 L502.24 292.79 L501.15 293.85 L500.05 294.91 L498.96 295.96 L497.85 297.01 L496.75 298.05 L495.64 299.09 L494.53 300.13 L493.41 301.16 L492.30 302.19 L491.17 303.22 L490.05 304.24 L488.92 305.26 L487.79 306.27 L486.65 307.29 L485.51 308.29 L484.37 309.30 L483.22 310.30 L482.07 311.29 L480.92 312.29 L479.76 313.28 L478.61 314.26 L477.44 315.24 L476.28 316.22 L475.11 317.19 L473.94 318.16 L472.76 319.13 L471.58 320.09 L470.40 321.05 L469.21 322.00 L468.03 322.95 L466.83 323.89 L465.64 324.84 L464.44 325.77 L463.24 326.71 L462.04 327.64 L460.83 328.56 L459.62 329.48 L458.41 330.40 L457.19 331.31 L455.97 332.22 L454.75 333.13 L453.52 334.03 L452.29 334.92 L451.06 335.82 L449.83 336.70 L448.59 337.59 L447.35 338.47 L446.11 339.34 L444.86 340.21 L443.61 341.08 L442.36 341.94 L441.10 342.80 L439.84 343.66 L438.58 344.50 L437.32 345.35 L436.05 346.19 L434.78 347.03 L433.51 347.86 L432.23 348.69 L430.96 349.51 L429.67 350.33 L428.39 351.14 L427.10 351.95 L425.82 352.76 L424.52 353.56 L423.23 354.35 L421.93 355.14 L420.63 355.93 L419.33 356.71 L418.02 357.49 L416.71 358.26 L415.40 359.03 L414.09 359.79 L412.77 360.55 L411.45 361.31 L410.13 362.06 L408.81 362.80 L407.48 363.54 L406.15 364.28 L404.82 365.01 L403.49 365.73 L402.15 366.45 L400.81 367.17 L399.47 367.88 L398.13 368.59 L396.78 369.29 L395.43 369.99 L394.08 370.68 L392.72 371.36 L391.37 372.05 L390.01 372.72 L388.65 373.40 L387.28 374.06 L385.92 374.73 L384.55 375.38 L383.18 376.03 L381.80 376.68 L380.43 377.32 L379.05 377.96 L377.67 378.59 L376.29 379.22 L374.90 379.85 L373.52 380.46 L372.13 381.08 L370.74 381.69 L369.35 382.29 L367.95 382.89 L366.55 383.48 L365.15 384.07 L363.75 384.66 L362.35 385.24 L360.94 385.81 L359.54 386.38 L358.13 386.95 L356.72 387.51 L355.30 388.06 L353.89 388.62 L352.47 389.16 L351.05 389.70 L349.63 390.24 L348.21 390.77 L346.78 391.30 L345.36 391.83 L343.93 392.35 L342.50 392.86 L341.07 393.37 L339.64 393.87 L338.20 394.38 L336.77 394.87 L335.33 395.36 L333.89 395.85 L332.45 396.33 L331.00 396.81 L329.56 397.28 L328.11 397.75 L326.67 398.22 L325.22 398.68 L323.77 399.13 L322.31 399.58 L320.86 400.03 L319.41 400.47 L317.95 400.91 L316.49 401.34 L315.03 401.77 L313.57 402.20 L312.11 402.62 L310.65 403.03 L309.18 403.44 L307.72 403.85 L306.25 404.25 L304.78 404.65 L303.32 405.05 L301.84 405.44 L300.37 405.82 L298.90 406.20 L297.43 406.58 L295.95 406.95 L294.48 407.32 L293.00 407.69 L291.52 408.05 L290.04 408.40 L288.56 408.75 L287.08 409.10 L285.60 409.44 L284.12 409.78 L282.63 410.12 L281.15 410.45 L279.66 410.78 L278.18 411.10 L276.69 411.42 L275.20 411.73 L273.71 412.04 L272.22 412.35 L270.73 412.65 L269.24 412.95 L267.75 413.24 L266.26 413.53 L264.76 413.82 L263.27 414.10 L261.77 414.38 L260.28 414.65 L258.78 414.92 L257.29 415.19 L255.79 415.45 L254.29 415.71 L252.79 415.96 L251.30 416.21 L249.80 416.46 L248.30 416.70 L246.80 416.94 L245.30 417.18 L243.79 417.41 L242.29 417.64 L240.79 417.86 L239.29 418.08 L237.79 418.30 L236.28 418.51 L234.78 418.72 L233.27 418.93 L231.77 419.13 L230.26 419.33 L228.76 419.53 L227.25 419.72 L225.74 419.91 L224.24 420.10 L222.73 420.28 L221.22 420.46 L219.71 420.63 L218.20 420.81 L216.69 420.98 L215.18 421.14 L213.67 421.31 L212.16 421.47 L210.65 421.63 L209.14 421.78 L207.63 421.93 L206.12 422.08 L204.61 422.23 L203.09 422.37 L201.58 422.51 L200.07 422.65 L198.56 422.78 L197.04 422.91 L195.53 423.04 L194.01 423.17 L192.50 423.29 L190.99 423.41 L189.47 423.53 L187.96 423.65 L186.44 423.76 L184.92 423.87 L183.41 423.98 L181.89 424.08 L180.38 424.19 L178.86 424.29 L177.34 424.39 L175.83 424.48 L174.31 424.58 L172.79 424.67 L171.27 424.76 L169.76 424.84 L168.24 424.93 L166.72 425.01 L165.20 425.09 L163.68 425.17 L162.17 425.24 L160.65 425.32 L159.13 425.39 L157.61 425.46 L156.09 425.53 L154.57 425.59 L153.05 425.66 L151.53 425.72 L150.02 425.78 L148.50 425.84 L146.98 425.90 L145.46 425.95 L143.94 426.01 L142.42 426.06 L140.90 426.11 L139.38 426.16 L137.86 426.20 L136.34 426.25 L134.82 426.29 L133.30 426.33 L131.78 426.38 L130.26 426.41 L128.74 426.45 L127.22 426.49" stroke-dasharray="8.95 5.37 1.79 5.37" stroke-dashoffset="7.20"/>
</g>
<polyline fill="none" stroke="#000" stroke-width="3.9" stroke-linejoin="round" points="207.2,347.6 231.3,350.5 249.3,357.4 269.6,370.4 285.0,384.6 297.4,398.1 303.2,405.2 308.0,412.5 312.0,418.8 316.8,427.0"/>
<g stroke="#000" stroke-width="2.50" fill="none" stroke-linecap="butt">
<rect x="55.65" y="9.60" width="596.50" height="417.40" stroke-linejoin="round"/>
<line x1="75.53" y1="427.00" x2="75.53" y2="421.00"/>
<line x1="75.53" y1="9.60" x2="75.53" y2="15.60"/>
<line x1="95.42" y1="427.00" x2="95.42" y2="421.00"/>
<line x1="95.42" y1="9.60" x2="95.42" y2="15.60"/>
<line x1="115.30" y1="427.00" x2="115.30" y2="415.00"/>
<line x1="115.30" y1="9.60" x2="115.30" y2="21.60"/>
<line x1="135.18" y1="427.00" x2="135.18" y2="421.00"/>
<line x1="135.18" y1="9.60" x2="135.18" y2="15.60"/>
<line x1="155.07" y1="427.00" x2="155.07" y2="421.00"/>
<line x1="155.07" y1="9.60" x2="155.07" y2="15.60"/>
<line x1="174.95" y1="427.00" x2="174.95" y2="415.00"/>
<line x1="174.95" y1="9.60" x2="174.95" y2="21.60"/>
<line x1="194.83" y1="427.00" x2="194.83" y2="421.00"/>
<line x1="194.83" y1="9.60" x2="194.83" y2="15.60"/>
<line x1="214.72" y1="427.00" x2="214.72" y2="421.00"/>
<line x1="214.72" y1="9.60" x2="214.72" y2="15.60"/>
<line x1="234.60" y1="427.00" x2="234.60" y2="415.00"/>
<line x1="234.60" y1="9.60" x2="234.60" y2="21.60"/>
<line x1="254.48" y1="427.00" x2="254.48" y2="421.00"/>
<line x1="254.48" y1="9.60" x2="254.48" y2="15.60"/>
<line x1="274.37" y1="427.00" x2="274.37" y2="421.00"/>
<line x1="274.37" y1="9.60" x2="274.37" y2="15.60"/>
<line x1="294.25" y1="427.00" x2="294.25" y2="415.00"/>
<line x1="294.25" y1="9.60" x2="294.25" y2="21.60"/>
<line x1="314.13" y1="427.00" x2="314.13" y2="421.00"/>
<line x1="314.13" y1="9.60" x2="314.13" y2="15.60"/>
<line x1="334.02" y1="427.00" x2="334.02" y2="421.00"/>
<line x1="334.02" y1="9.60" x2="334.02" y2="15.60"/>
<line x1="353.90" y1="427.00" x2="353.90" y2="415.00"/>
<line x1="353.90" y1="9.60" x2="353.90" y2="21.60"/>
<line x1="373.78" y1="427.00" x2="373.78" y2="421.00"/>
<line x1="373.78" y1="9.60" x2="373.78" y2="15.60"/>
<line x1="393.67" y1="427.00" x2="393.67" y2="421.00"/>
<line x1="393.67" y1="9.60" x2="393.67" y2="15.60"/>
<line x1="413.55" y1="427.00" x2="413.55" y2="415.00"/>
<line x1="413.55" y1="9.60" x2="413.55" y2="21.60"/>
<line x1="433.43" y1="427.00" x2="433.43" y2="421.00"/>
<line x1="433.43" y1="9.60" x2="433.43" y2="15.60"/>
<line x1="453.32" y1="427.00" x2="453.32" y2="421.00"/>
<line x1="453.32" y1="9.60" x2="453.32" y2="15.60"/>
<line x1="473.20" y1="427.00" x2="473.20" y2="415.00"/>
<line x1="473.20" y1="9.60" x2="473.20" y2="21.60"/>
<line x1="493.08" y1="427.00" x2="493.08" y2="421.00"/>
<line x1="493.08" y1="9.60" x2="493.08" y2="15.60"/>
<line x1="512.97" y1="427.00" x2="512.97" y2="421.00"/>
<line x1="512.97" y1="9.60" x2="512.97" y2="15.60"/>
<line x1="532.85" y1="427.00" x2="532.85" y2="415.00"/>
<line x1="532.85" y1="9.60" x2="532.85" y2="21.60"/>
<line x1="552.73" y1="427.00" x2="552.73" y2="421.00"/>
<line x1="552.73" y1="9.60" x2="552.73" y2="15.60"/>
<line x1="572.62" y1="427.00" x2="572.62" y2="421.00"/>
<line x1="572.62" y1="9.60" x2="572.62" y2="15.60"/>
<line x1="592.50" y1="427.00" x2="592.50" y2="415.00"/>
<line x1="592.50" y1="9.60" x2="592.50" y2="21.60"/>
<line x1="612.38" y1="427.00" x2="612.38" y2="421.00"/>
<line x1="612.38" y1="9.60" x2="612.38" y2="15.60"/>
<line x1="632.27" y1="427.00" x2="632.27" y2="421.00"/>
<line x1="632.27" y1="9.60" x2="632.27" y2="15.60"/>
<line x1="55.65" y1="403.81" x2="61.65" y2="403.81"/>
<line x1="652.15" y1="403.81" x2="646.15" y2="403.81"/>
<line x1="55.65" y1="380.62" x2="61.65" y2="380.62"/>
<line x1="652.15" y1="380.62" x2="646.15" y2="380.62"/>
<line x1="55.65" y1="357.43" x2="67.65" y2="357.43"/>
<line x1="652.15" y1="357.43" x2="640.15" y2="357.43"/>
<line x1="55.65" y1="334.24" x2="61.65" y2="334.24"/>
<line x1="652.15" y1="334.24" x2="646.15" y2="334.24"/>
<line x1="55.65" y1="311.06" x2="61.65" y2="311.06"/>
<line x1="652.15" y1="311.06" x2="646.15" y2="311.06"/>
<line x1="55.65" y1="287.87" x2="67.65" y2="287.87"/>
<line x1="652.15" y1="287.87" x2="640.15" y2="287.87"/>
<line x1="55.65" y1="264.68" x2="61.65" y2="264.68"/>
<line x1="652.15" y1="264.68" x2="646.15" y2="264.68"/>
<line x1="55.65" y1="241.49" x2="61.65" y2="241.49"/>
<line x1="652.15" y1="241.49" x2="646.15" y2="241.49"/>
<line x1="55.65" y1="218.30" x2="67.65" y2="218.30"/>
<line x1="652.15" y1="218.30" x2="640.15" y2="218.30"/>
<line x1="55.65" y1="195.11" x2="61.65" y2="195.11"/>
<line x1="652.15" y1="195.11" x2="646.15" y2="195.11"/>
<line x1="55.65" y1="171.92" x2="61.65" y2="171.92"/>
<line x1="652.15" y1="171.92" x2="646.15" y2="171.92"/>
<line x1="55.65" y1="148.73" x2="67.65" y2="148.73"/>
<line x1="652.15" y1="148.73" x2="640.15" y2="148.73"/>
<line x1="55.65" y1="125.54" x2="61.65" y2="125.54"/>
<line x1="652.15" y1="125.54" x2="646.15" y2="125.54"/>
<line x1="55.65" y1="102.36" x2="61.65" y2="102.36"/>
<line x1="652.15" y1="102.36" x2="646.15" y2="102.36"/>
<line x1="55.65" y1="79.17" x2="67.65" y2="79.17"/>
<line x1="652.15" y1="79.17" x2="640.15" y2="79.17"/>
<line x1="55.65" y1="55.98" x2="61.65" y2="55.98"/>
<line x1="652.15" y1="55.98" x2="646.15" y2="55.98"/>
<line x1="55.65" y1="32.79" x2="61.65" y2="32.79"/>
<line x1="652.15" y1="32.79" x2="646.15" y2="32.79"/>
</g>
<g font-size="20.4px">
<text x="55.95" y="447.6" text-anchor="middle">0</text>
<text x="115.60" y="447.6" text-anchor="middle">1</text>
<text x="175.25" y="447.6" text-anchor="middle">2</text>
<text x="234.90" y="447.6" text-anchor="middle">3</text>
<text x="294.55" y="447.6" text-anchor="middle">4</text>
<text x="354.20" y="447.6" text-anchor="middle">5</text>
<text x="413.85" y="447.6" text-anchor="middle">6</text>
<text x="473.50" y="447.6" text-anchor="middle">7</text>
<text x="533.15" y="447.6" text-anchor="middle">8</text>
<text x="592.80" y="447.6" text-anchor="middle">9</text>
<text x="652.45" y="447.6" text-anchor="middle">10</text>
<text x="50.6" y="434.50" text-anchor="end">0</text>
<text x="50.6" y="364.93" text-anchor="end">0.5</text>
<text x="50.6" y="295.37" text-anchor="end">1</text>
<text x="50.6" y="225.80" text-anchor="end">1.5</text>
<text x="50.6" y="156.23" text-anchor="end">2</text>
<text x="50.6" y="86.67" text-anchor="end">2.5</text>
<text x="50.6" y="17.10" text-anchor="end">3</text>
<text x="354.5" y="467.6" text-anchor="middle" letter-spacing="0.35">R (Km)</text>
<text transform="translate(16.0,217.8) rotate(-90)" text-anchor="middle" letter-spacing="0.28">M (Soalr Mass)</text>
</g>
<g font-size="16.4px">
<text x="99.6" y="341.9">RXJ<tspan dx="1.2">1856.5-3754</tspan></text>
<rect x="443.5" y="39.5" width="108" height="94" fill="#fff" stroke="#000" stroke-width="1"/>
<line x1="450.2" y1="51.40" x2="474.2" y2="51.40" stroke="#000" stroke-width="2.00" />
<text x="486.3" y="56.80">1.0 GeV</text>
<line x1="450.2" y1="68.90" x2="474.2" y2="68.90" stroke="#000" stroke-width="2.00" stroke-dasharray="1.9 5.26"/>
<text x="486.3" y="74.30">0.8 GeV</text>
<line x1="450.2" y1="86.80" x2="474.2" y2="86.80" stroke="#000" stroke-width="2.00" stroke-dasharray="8.95 5.37"/>
<text x="486.3" y="92.20">0.7 GEV</text>
<line x1="450.2" y1="104.30" x2="474.2" y2="104.30" stroke="#000" stroke-width="2.00" stroke-dasharray="12.53 5.37"/>
<text x="486.3" y="109.70">0.6 GeV</text>
<line x1="450.2" y1="121.90" x2="474.2" y2="121.90" stroke="#000" stroke-width="2.00" stroke-dasharray="1.79 5.37 8.95 5.37"/>
<text x="486.3" y="127.30">0.5 GeV</text>
</g>
</svg></body></html>
